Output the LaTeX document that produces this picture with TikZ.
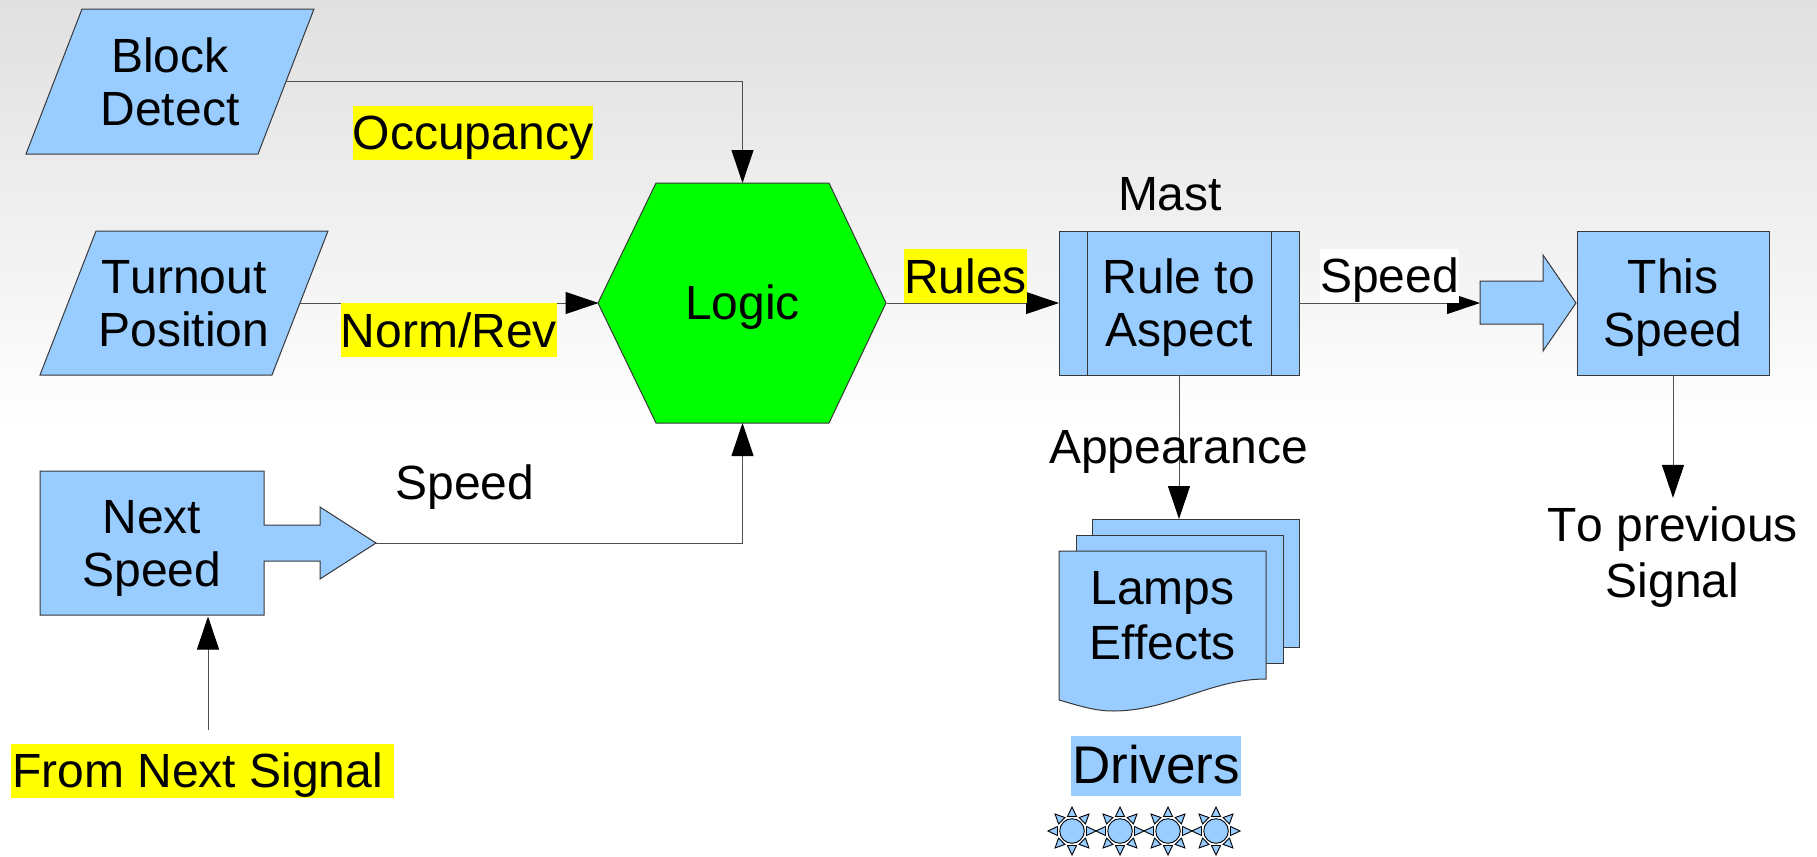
\documentclass[tikz,border=0pt]{standalone}
\usepackage{fontspec}
\setmainfont[Kerning=Off]{Liberation Sans}
\usetikzlibrary{arrows.meta,calc}
\definecolor{boxblue}{HTML}{99CCFF}
\definecolor{edge}{HTML}{383838}
\definecolor{wirec}{HTML}{505050}
\definecolor{hlyellow}{HTML}{FFFF00}
\definecolor{logicgreen}{HTML}{00FF00}
\newcommand{\ls}{\rule[-4.7pt]{0pt}{26.5pt}}
\tikzset{
  txt/.style={inner sep=0pt,outer sep=0pt,align=center,font=\fontsize{24}{26.5}\selectfont},
  shapefill/.style={fill=boxblue,draw=edge,line width=0.5pt,line join=miter},
  boxnode/.style={txt,fill=boxblue,draw=edge,line width=0.5pt},
  wire/.style={draw=wirec,line width=0.5pt,-{Triangle[length=16.5pt,width=11pt,color=black]}},
  hl/.style={txt,fill=hlyellow},
  sunpart/.style={fill=boxblue,draw=black,line width=0.45pt},
}
\begin{document}
\begin{tikzpicture}[x=0.5pt,y=-0.5pt]
\useasboundingbox (0,0) rectangle (1817,857);
\fill[white] (0,0) rectangle (1817,857);
\shade[top color={rgb,255:red,224;green,224;blue,224},bottom color=white] (0,0) rectangle (1817,430);

% shapes with custom outlines
\draw[shapefill] (82,9) -- (314,9) -- (258,154) -- (26,154) -- cycle;
\draw[shapefill] (96,231) -- (328,231) -- (272,375) -- (40,375) -- cycle;
\draw[shapefill] (40,471) -- (264,471) -- (264,525) -- (320,525) -- (320,507) -- (376,543) -- (320,579) -- (320,561) -- (264,561) -- (264,615) -- (40,615) -- cycle;
\draw[fill=logicgreen,draw=edge,line width=0.5pt] (598,303) -- (656,183) -- (829,183) -- (886,303) -- (829,423) -- (656,423) -- cycle;
\draw[shapefill] (1480,281) -- (1543,281) -- (1543,255) -- (1576,303) -- (1543,351) -- (1543,324) -- (1480,324) -- cycle;

% text nodes on the shapes
\node[txt,minimum width=116pt,minimum height=72.5pt] (block) at (170,81.5) {\ls Block\\\ls Detect};
\node[txt,minimum width=116pt,minimum height=72pt] (turnout) at (184,303) {\ls Turnout\\\ls Position};
\node[txt,minimum width=112pt,minimum height=72pt] (next) at (152,543) {\ls Next\\\ls Speed};
\node[txt,minimum width=144pt,minimum height=120pt] (logic) at (742.5,303) {\ls Logic};
\coordinate (nexttip) at (376,543);
\coordinate (thistail) at (1480,303);
\coordinate (nexttail) at (208,730);

\node[boxnode,minimum width=120pt,minimum height=72pt] (mast) at (1179,303) {\ls Rule to\\\ls Aspect};
\draw[draw=edge,line width=0.5pt] (1087,231) -- (1087,375) (1271,231) -- (1271,375);
\node[boxnode,minimum width=96pt,minimum height=72pt] (this) at (1673,303) {\ls This\\\ls Speed};

% lamps document stack
\node[boxnode,minimum width=103.5pt,minimum height=64pt] (lampsback) at (1195.5,583) {};
\node[boxnode,minimum width=103.5pt,minimum height=64pt] (lampsmid) at (1179.5,599) {};
\draw[shapefill] (1059,551) -- (1266,551) -- (1266,679) .. controls (1210,679) and (1170,711) .. (1113,711) .. controls (1095,711) and (1080,706) .. (1059,700) -- cycle;
\node[txt] (lamps) at (1162.5,615) {\ls Lamps\\\ls Effects};

% connectors
\draw[wire] (block.east) -| (logic.north);
\draw[wire] (turnout.east) -- (logic.west);
\draw[wire] (nexttip) -| (logic.south);
\draw[wire] (nexttail) -- ($(nexttail |- next.south)+(0,1.5)$);
\draw[wire] (logic.east) -- (mast.west);
\draw[wire] (mast.east) -- (thistail);
\draw[wire] (mast.south) -- (mast.south |- lampsback.north);
\node[txt] (prev) at (1672.5,552.5) {\ls To previous\\\ls Signal};
\draw[wire] (this.south) -- (this.south |- prev.north);

% labels
\node[hl,minimum width=120pt,minimum height=27pt] (occ) at (473,133) {\ls Occupancy};
\node[hl,minimum width=108pt,minimum height=27pt] (norm) at (449,330) {\ls Norm/Rev};
\node[hl,minimum width=61.5pt,minimum height=27pt] (rules) at (965.5,276) {\ls Rules};
\node[txt,fill=white,minimum width=69.5pt,minimum height=27pt] (speedw) at (1389.5,276) {\ls Speed};
\node[txt] (speedl) at (465,483) {\ls Speed};
\node[txt] (mastl) at (1170,193.5) {\ls Mast};
\node[txt] (appear) at (1178.5,447) {\ls Appearance};
\node[hl,minimum width=191.5pt,minimum height=27pt] (from) at (202.5,771) {\ls From Next Signal\hspace{5pt}};
\node[txt,fill=boxblue,minimum width=85pt,minimum height=30pt,font=\fontsize{26.5}{26.5}\selectfont] (drivers) at (1156,766) {\ls Drivers};

% sun row
\foreach \sx in {1072,1120,1168,1216} {
  \foreach \a in {0,45,...,315} {
    \draw[sunpart,shift={(\sx,831)},rotate=\a] (14.5,-4.5) -- (24,0) -- (14.5,4.5) -- cycle;
  }
  \draw[sunpart] (\sx,831) circle[radius=12.3];
}
\end{tikzpicture}
\end{document}
